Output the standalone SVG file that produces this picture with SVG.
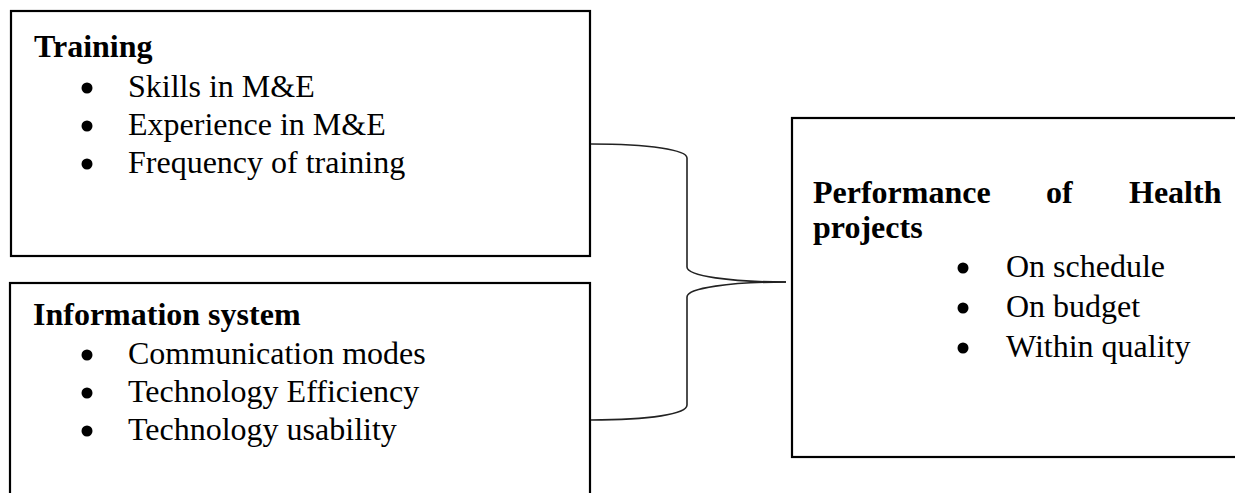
<svg xmlns="http://www.w3.org/2000/svg" width="1235" height="493" viewBox="0 0 1235 493">
<style>
.box{fill:#fff;stroke:#000;stroke-width:2.2}
.h{font-family:"Liberation Serif","Times New Roman",serif;font-size:32px;font-weight:bold;fill:#000}
.t{font-family:"Liberation Serif","Times New Roman",serif;font-size:32px;fill:#000}
.b{fill:#000}
.c{fill:none;stroke:#222;stroke-width:1.6}
</style>
<rect width="1235" height="493" fill="#fff"/>
<g id="training">
<rect class="box" x="11" y="11" width="579" height="245"/>
<text class="h" x="34" y="57">Training</text>
<circle class="b" cx="87" cy="88" r="5.5"/><text class="t" x="128" y="97">Skills in M&amp;E</text>
<circle class="b" cx="87" cy="126" r="5.5"/><text class="t" x="128" y="135">Experience in M&amp;E</text>
<circle class="b" cx="87" cy="164" r="5.5"/><text class="t" x="128" y="173">Frequency of training</text>
</g>
<g id="information-system">
<rect class="box" x="10" y="283" width="580" height="300"/>
<text class="h" x="33" y="325">Information system</text>
<circle class="b" cx="87" cy="355" r="5.5"/><text class="t" x="128" y="364">Communication modes</text>
<circle class="b" cx="87" cy="393" r="5.5"/><text class="t" x="128" y="402">Technology Efficiency</text>
<circle class="b" cx="87" cy="431" r="5.5"/><text class="t" x="128" y="440">Technology usability</text>
</g>
<g id="performance">
<rect class="box" x="792" y="118" width="500" height="339"/>
<text class="h" x="813" y="203">Performance</text>
<text class="h" x="1046" y="203">of</text>
<text class="h" x="1129" y="203">Health</text>
<text class="h" x="813" y="238">projects</text>
<circle class="b" cx="963" cy="268" r="5.5"/><text class="t" x="1006" y="277">On schedule</text>
<circle class="b" cx="963" cy="308" r="5.5"/><text class="t" x="1006" y="317">On budget</text>
<circle class="b" cx="963" cy="348" r="5.5"/><text class="t" x="1006" y="357">Within quality</text>
</g>
<g id="connectors">
<path class="c" d="M591 144 C650 144 687 150 687 158 L687 267 C687 276 730 282 786 282"/>
<path class="c" d="M591 420 C650 420 687 414 687 405 L687 297 C687 288 730 282 786 282"/>
</g>
</svg>
